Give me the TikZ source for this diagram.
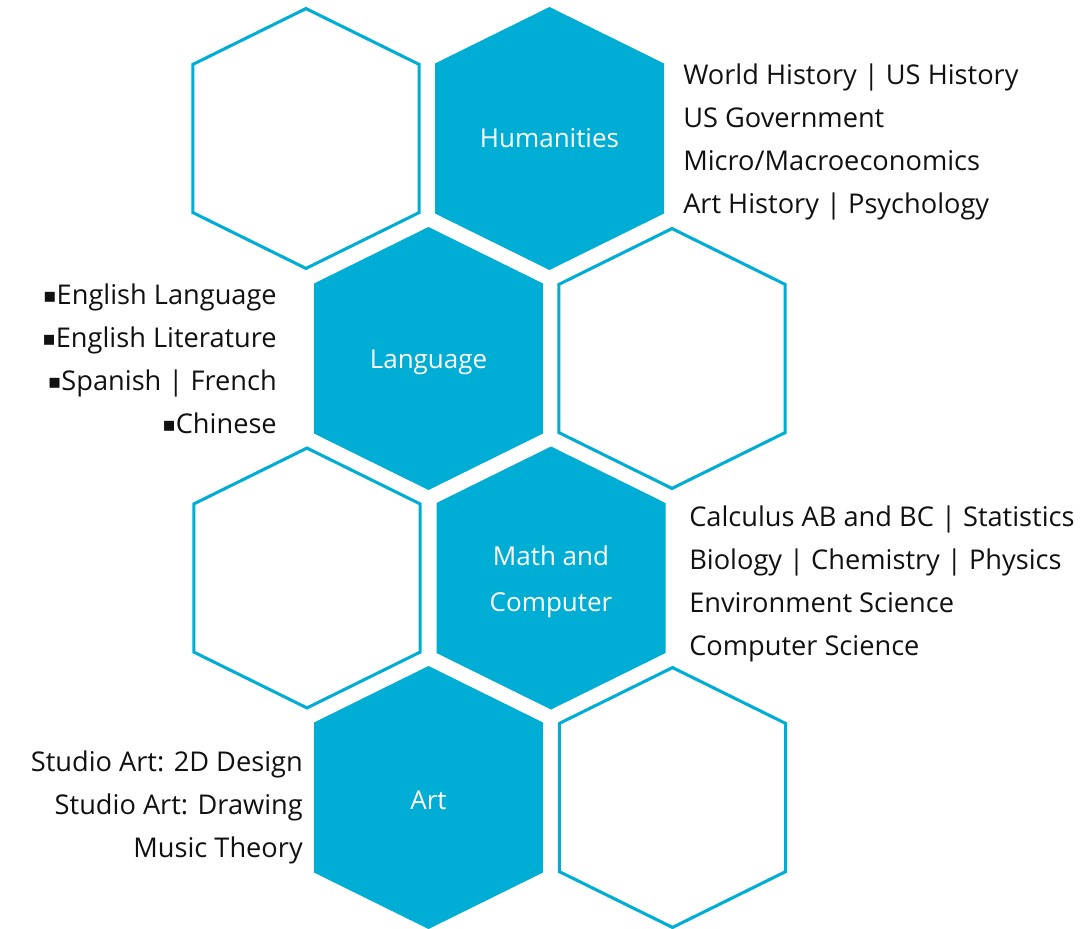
\documentclass[tikz,border=0pt]{standalone}
\usepackage{fontspec}
\setmainfont{Open Sans}
\newfontfamily\symfont{DejaVu Sans}
\usepackage{xcolor}
\usepackage{tikz}
\usetikzlibrary{positioning}
\definecolor{hexblue}{HTML}{00ADD5}
\definecolor{coursegray}{HTML}{111111}

\tikzset{
  pics/hexcell/.style={code={
    \path[#1] (0,-131.5) -- (114.5,-75) -- (114.5,75) -- (0,131.5)
      -- (-114.5,75) -- (-114.5,-75) -- cycle;
  }}
}
\newcommand{\sqbullet}{\raisebox{2pt}{\symfont\fontsize{15}{15}\selectfont ▪}}

\begin{document}
\begin{tikzpicture}[
  x=0.75pt, y=-0.75pt,
  hexfill/.style={fill=hexblue},
  hexopen/.style={draw=hexblue, line width=2.3pt, scale=0.988},
  hexlabel/.style={text=white, font=\fontsize{19.5}{34.5}\selectfont, align=center},
  course/.style={text=coursegray, font=\fontsize{20.4}{32.25}\selectfont, inner xsep=0pt}
]
\useasboundingbox (0,0) rectangle (1091,928);

% centres of the cells
\coordinate (open1) at (306,138.5);
\coordinate (hum) at (549.5,138.5);
\coordinate (lang) at (428.5,358.5);
\coordinate (open2) at (672,358.5);
\coordinate (open3) at (307,578);
\coordinate (math) at (551,578);
\coordinate (art) at (428.5,797.5);
\coordinate (open4) at (672.5,797.5);

\pic at (open1) {hexcell=hexopen};
\pic at (hum) {hexcell=hexfill};
\pic at (lang) {hexcell=hexfill};
\pic at (open2) {hexcell=hexopen};
\pic at (open3) {hexcell=hexopen};
\pic at (math) {hexcell=hexfill};
\pic at (art) {hexcell=hexfill};
\pic at (open4) {hexcell=hexopen};

\node[hexlabel] (humlabel) at (hum) {Humanities};
\node[hexlabel] (langlabel) at ([yshift=-3pt]lang) {Language};
\node[hexlabel] (mathlabel) at ([yshift=-3pt]math) {Math and\\Computer};
\node[hexlabel] (artlabel) at ([yshift=-2pt]art) {Art};

\node[course, anchor=west, align=left] (humlist) at (683,142)
  {World History | US History\\US Government\\Micro/Macroeconomics\\Art History | Psychology};
\node[course, anchor=east, align=right] (langlist) at (277,359)
  {\sqbullet English Language\\\sqbullet English Literature\\\sqbullet Spanish | French\\\sqbullet Chinese};
\node[course, anchor=west, align=left] (mathlist) at (689,583.5)
  {Calculus AB and BC | Statistics\\Biology | Chemistry | Physics\\Environment Science\\Computer Science};
\node[course, anchor=east, align=right] (artlist) at (303,807.5)
  {Studio Art: 2D Design\\Studio Art: Drawing\\Music Theory};
\end{tikzpicture}
\end{document}
